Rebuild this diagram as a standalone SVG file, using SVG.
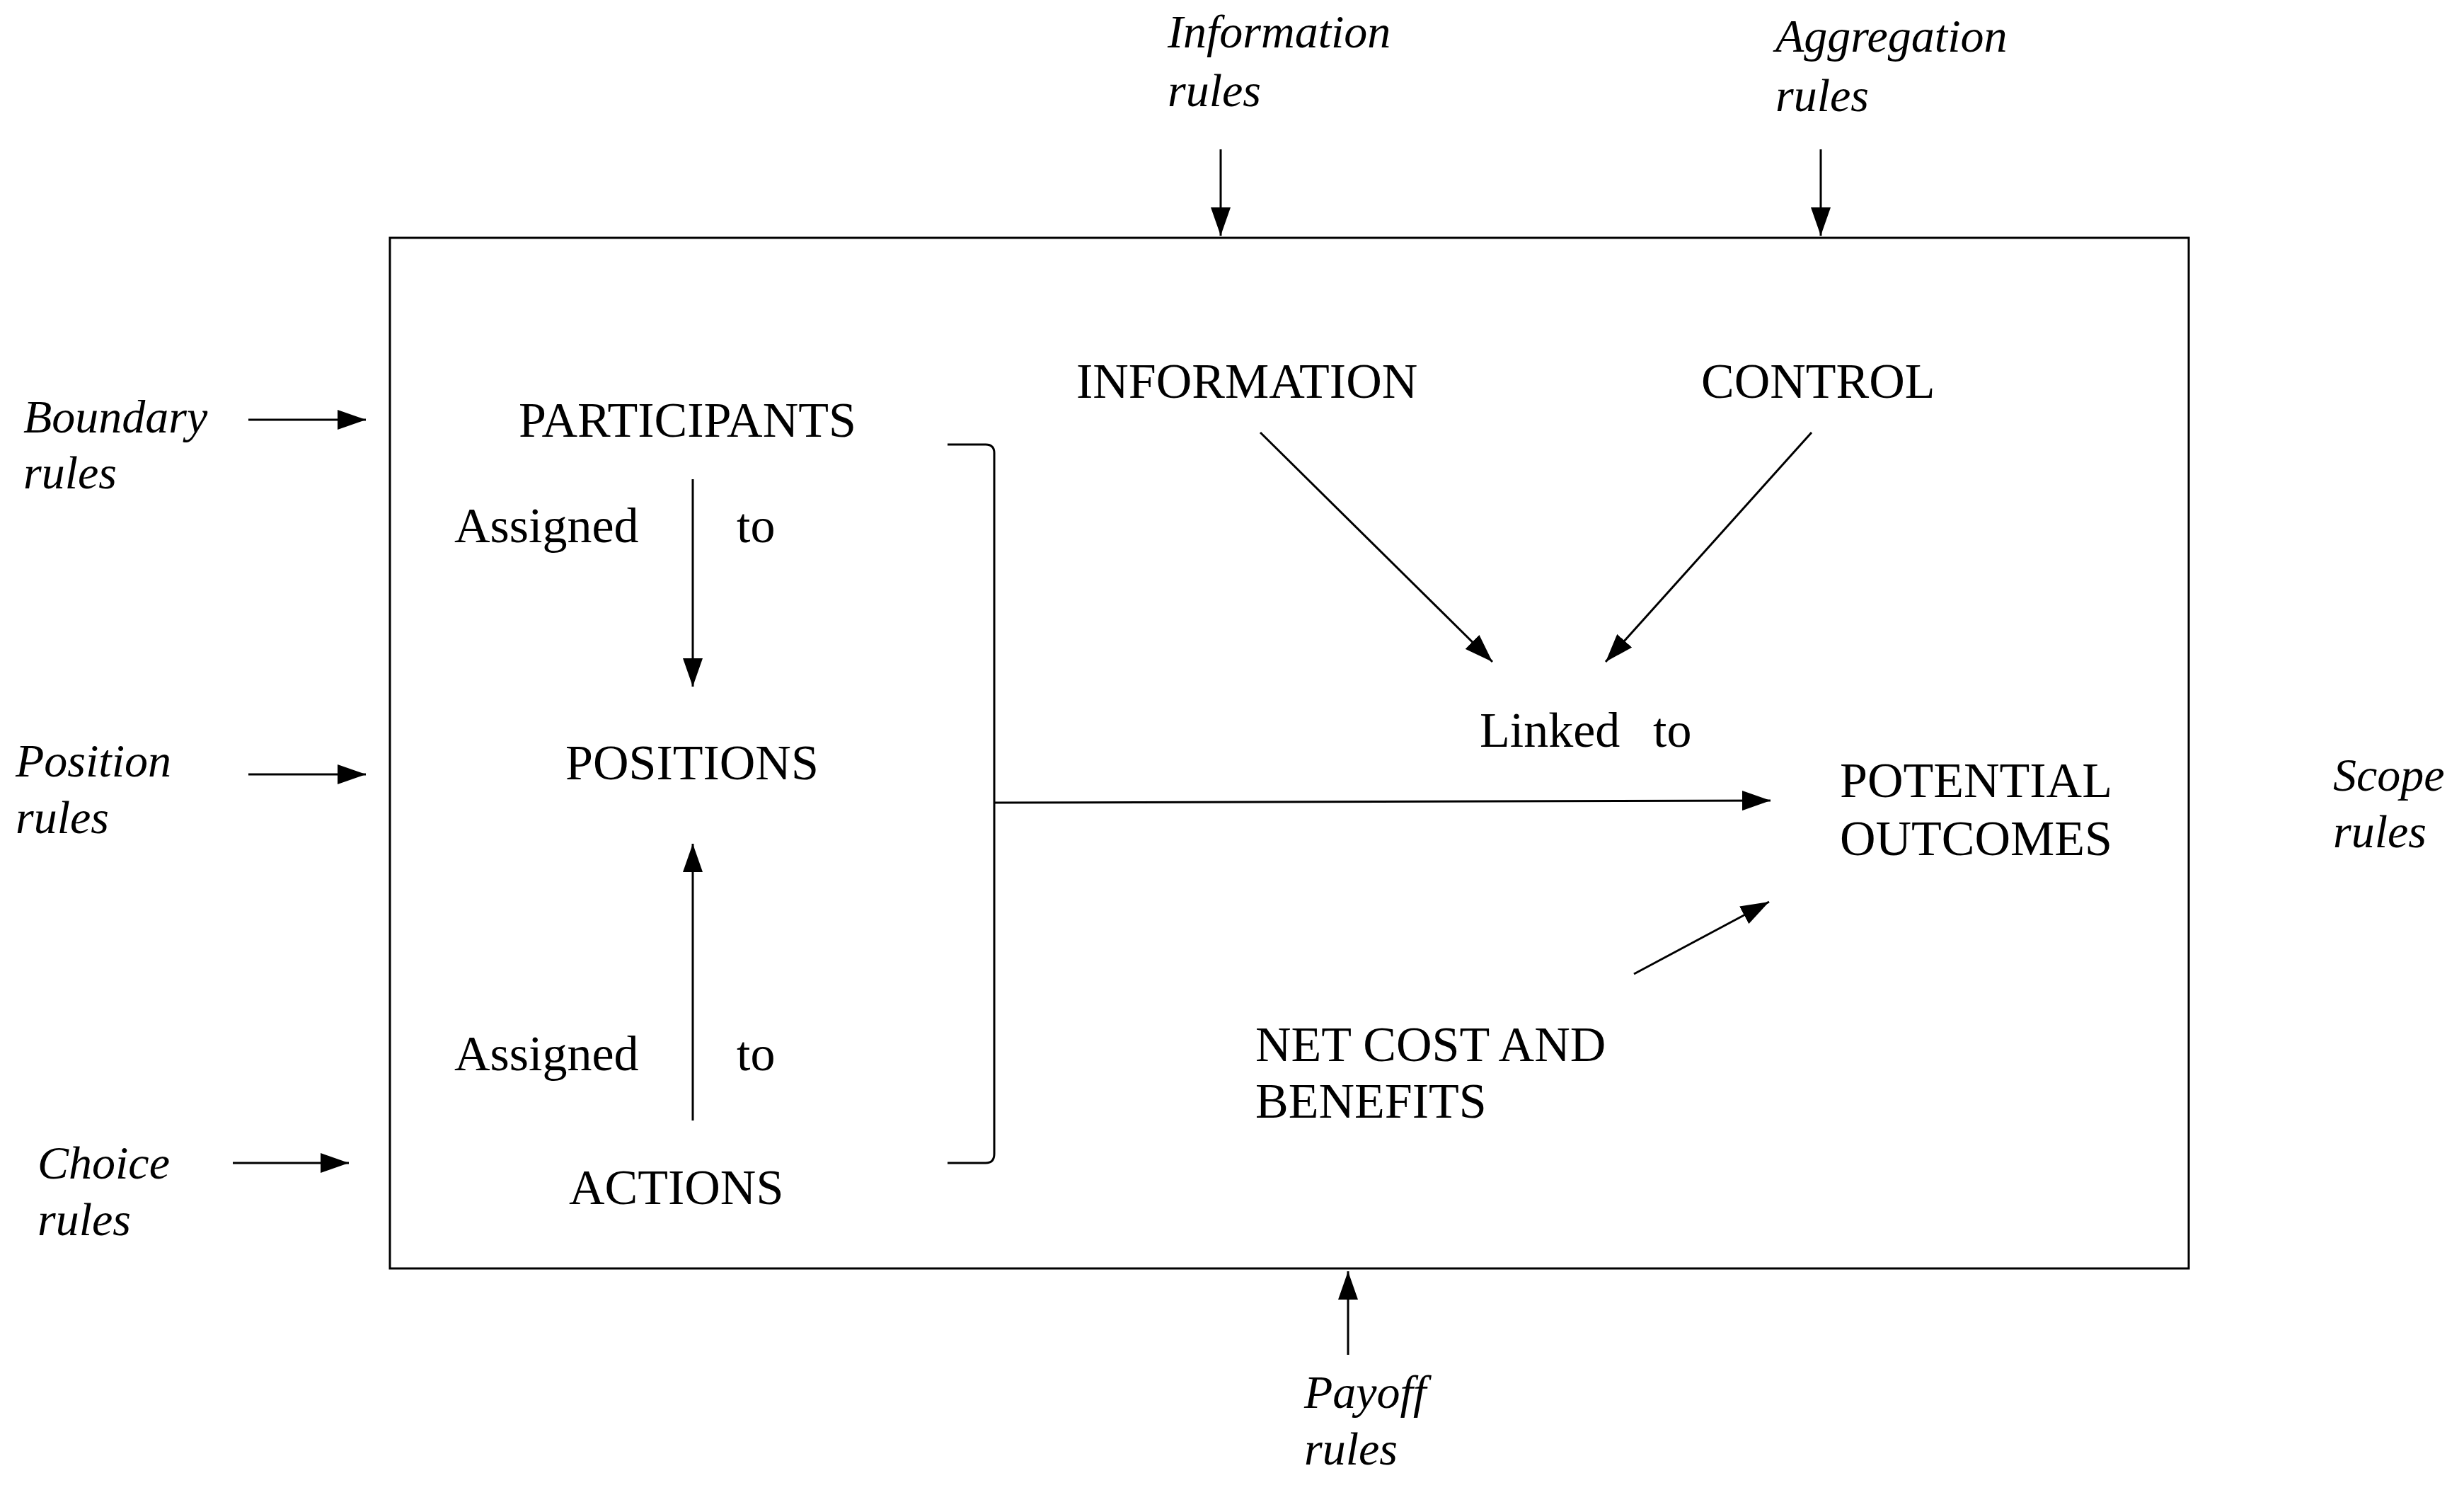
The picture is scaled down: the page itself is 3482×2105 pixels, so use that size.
<svg xmlns="http://www.w3.org/2000/svg" width="3482" height="2105" viewBox="0 0 3482 2105">
<style>
text{font-family:"Liberation Serif","Times New Roman",serif;fill:#000}
.n{font-size:70px}
.r{font-size:66px;font-style:italic}
.c line,.c path{stroke:#000;stroke-width:3;fill:none}
</style>
<defs>
<marker id="a" markerUnits="userSpaceOnUse" markerWidth="42" markerHeight="28" refX="40" refY="14" orient="auto">
<path d="M0,0 L40,14 L0,28 Z" fill="#000"/>
</marker>
</defs>
<rect width="3482" height="2105" fill="#fff"/>
<g id="frame"><rect x="551" y="336" width="2542" height="1456" fill="none" stroke="#000" stroke-width="3"/></g>
<g id="rules">
<text class="r" x="1650" y="67">Information</text><text class="r" x="1650" y="150">rules</text>
<text class="r" x="2509" y="73">Aggregation</text><text class="r" x="2509" y="157">rules</text>
<text class="r" x="33" y="611">Boundary</text><text class="r" x="33" y="690">rules</text>
<text class="r" x="22" y="1097">Position</text><text class="r" x="22" y="1177">rules</text>
<text class="r" x="53" y="1665">Choice</text><text class="r" x="53" y="1745">rules</text>
<text class="r" x="3297" y="1117">Scope</text><text class="r" x="3297" y="1197">rules</text>
<text class="r" x="1843" y="1989">Payoff</text><text class="r" x="1843" y="2069">rules</text>
</g>
<g id="participants"><text class="n" x="733" y="617">PARTICIPANTS</text></g>
<g id="positions"><text class="n" x="799" y="1101">POSITIONS</text></g>
<g id="actions"><text class="n" x="804" y="1701">ACTIONS</text></g>
<g id="information"><text class="n" x="1521" y="562">INFORMATION</text></g>
<g id="control"><text class="n" x="2404" y="562">CONTROL</text></g>
<g id="outcomes"><text class="n" x="2600" y="1126">POTENTIAL</text><text class="n" x="2600" y="1208">OUTCOMES</text></g>
<g id="netcost"><text class="n" x="1774" y="1499">NET COST AND</text><text class="n" x="1774" y="1579">BENEFITS</text></g>
<g id="labels">
<text class="n" x="642" y="766">Assigned</text><text class="n" x="1041" y="766">to</text>
<text class="n" x="642" y="1512">Assigned</text><text class="n" x="1041" y="1512">to</text>
<text class="n" x="2091" y="1055">Linked</text><text class="n" x="2336" y="1055">to</text>
</g>
<g id="connectors" class="c">
<line x1="1725" y1="211" x2="1725" y2="333" marker-end="url(#a)"/>
<line x1="2573" y1="211" x2="2573" y2="333" marker-end="url(#a)"/>
<line x1="351" y1="593" x2="517" y2="593" marker-end="url(#a)"/>
<line x1="351" y1="1094" x2="517" y2="1094" marker-end="url(#a)"/>
<line x1="329" y1="1643" x2="493" y2="1643" marker-end="url(#a)"/>
<line x1="1905" y1="1914" x2="1905" y2="1796" marker-end="url(#a)"/>
<line x1="979" y1="677" x2="979" y2="970" marker-end="url(#a)"/>
<line x1="979" y1="1583" x2="979" y2="1192" marker-end="url(#a)"/>
<path d="M1339,628 L1393,628 Q1405,628 1405,640 L1405,1630 Q1405,1643 1393,1643 L1339,1643"/>
<line x1="1405" y1="1134" x2="2502" y2="1131" marker-end="url(#a)"/>
<line x1="1781" y1="611" x2="2109" y2="935" marker-end="url(#a)"/>
<line x1="2560" y1="611" x2="2269" y2="935" marker-end="url(#a)"/>
<line x1="2309" y1="1376" x2="2500" y2="1274" marker-end="url(#a)"/>
</g>
</svg>
